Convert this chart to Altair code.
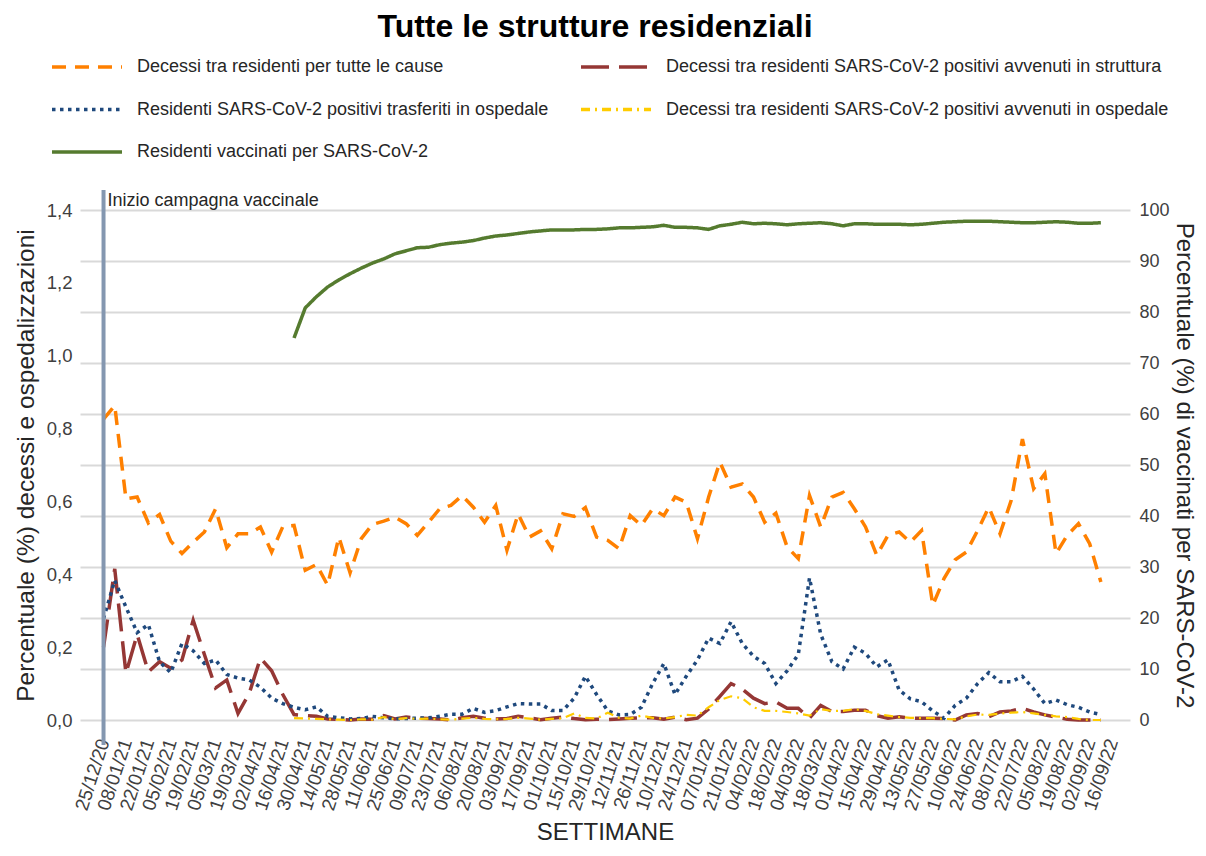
import altair as alt
import pandas as pd

TITLE = "Tutte le strutture residenziali"
ANNOTATION = "Inizio campagna vaccinale"
FONT = "Liberation Sans"

tick_labels = ["25/12/20", "08/01/21", "22/01/21", "05/02/21", "19/02/21", "05/03/21",
               "19/03/21", "02/04/21", "16/04/21", "30/04/21", "14/05/21", "28/05/21",
               "11/06/21", "25/06/21", "09/07/21", "23/07/21", "06/08/21", "20/08/21",
               "03/09/21", "17/09/21", "01/10/21", "15/10/21", "29/10/21", "12/11/21",
               "26/11/21", "10/12/21", "24/12/21", "07/01/22", "21/01/22", "04/02/22",
               "18/02/22", "04/03/22", "18/03/22", "01/04/22", "15/04/22", "29/04/22",
               "13/05/22", "27/05/22", "10/06/22", "24/06/22", "08/07/22", "22/07/22",
               "05/08/22", "19/08/22", "02/09/22", "16/09/22"]

series_names = [
    "Decessi tra residenti per tutte le cause",
    "Decessi tra residenti SARS-CoV-2 positivi avvenuti in struttura",
    "Residenti SARS-CoV-2 positivi trasferiti in ospedale",
    "Decessi tra residenti SARS-CoV-2 positivi avvenuti in ospedale",
    "Residenti vaccinati per SARS-CoV-2",
]
series_colors = ["#FF8000", "#953735", "#1F497D", "#FFCC00", "#557B2F"]
series_dashes = [[14, 9], [28, 10], [3.5, 4.5], [9, 5, 2, 5], [1, 0]]

# weekly values, week 0 = 25/12/20
tutte_cause = [
    0.826, 0.863, 0.607, 0.612, 0.541, 0.564, 0.491, 0.457, 0.488, 0.516,
    0.580, 0.473, 0.511, 0.511, 0.530, 0.461, 0.531, 0.534, 0.411, 0.427,
    0.370, 0.502, 0.404, 0.498, 0.537, 0.546, 0.557, 0.539, 0.507, 0.543,
    0.580, 0.589, 0.616, 0.584, 0.543, 0.589, 0.466, 0.566, 0.502, 0.519,
    0.470, 0.566, 0.559, 0.583, 0.502, 0.493, 0.470, 0.561, 0.534, 0.580,
    0.561, 0.612, 0.598, 0.498, 0.612, 0.708, 0.639, 0.648, 0.612, 0.543,
    0.568, 0.475, 0.443, 0.616, 0.530, 0.612, 0.625, 0.580, 0.530, 0.452,
    0.507, 0.516, 0.488, 0.520, 0.315, 0.388, 0.440, 0.461, 0.520, 0.584,
    0.511, 0.603, 0.771, 0.635, 0.676, 0.457, 0.507, 0.539, 0.484, 0.379,
]
in_struttura = [
    0.200, 0.415, 0.128, 0.235, 0.132, 0.160, 0.142, 0.165, 0.274, 0.180,
    0.088, 0.110, 0.018, 0.073, 0.170, 0.135, 0.070, 0.015, 0.012, 0.010,
    0.003, 0.002, 0.000, 0.003, 0.002, 0.012, 0.003, 0.008, 0.005, 0.004,
    0.003, 0.000, 0.006, 0.010, 0.005, 0.003, 0.004, 0.010, 0.006, 0.001,
    0.005, 0.008, 0.004, 0.001, 0.002, 0.001, 0.003, 0.005, 0.006, 0.006,
    0.002, 0.008, 0.001, 0.005, 0.030, 0.065, 0.100, 0.085, 0.060, 0.045,
    0.050, 0.032, 0.032, 0.005, 0.040, 0.023, 0.023, 0.027, 0.027, 0.012,
    0.005, 0.009, 0.005, 0.005, 0.005, 0.004, 0.000, 0.014, 0.018, 0.009,
    0.022, 0.025, 0.032, 0.022, 0.014, 0.008, 0.002, 0.000, 0.000, 0.000,
]
trasferiti = [
    0.278, 0.383, 0.310, 0.240, 0.262, 0.160, 0.130, 0.210, 0.190, 0.155,
    0.165, 0.125, 0.115, 0.110, 0.090, 0.060, 0.045, 0.035, 0.028, 0.036,
    0.010, 0.006, 0.003, 0.004, 0.010, 0.006, 0.003, 0.004, 0.005, 0.006,
    0.010, 0.016, 0.016, 0.032, 0.021, 0.026, 0.036, 0.045, 0.044, 0.044,
    0.026, 0.026, 0.060, 0.120, 0.070, 0.025, 0.014, 0.015, 0.035, 0.100,
    0.155, 0.070, 0.120, 0.165, 0.225, 0.210, 0.270, 0.210, 0.175, 0.155,
    0.100, 0.135, 0.180, 0.390, 0.235, 0.160, 0.140, 0.200, 0.183, 0.146,
    0.165, 0.082, 0.058, 0.050, 0.025, 0.005, 0.040, 0.060, 0.100, 0.130,
    0.105, 0.105, 0.120, 0.085, 0.045, 0.055, 0.042, 0.035, 0.022, 0.015,
]
in_ospedale = [None] * 17 + [
    0.005, 0.004, 0.003,
    0.002, 0.001, 0.000, 0.002, 0.001, 0.008, 0.002, 0.005, 0.003, 0.004,
    0.002, 0.001, 0.004, 0.006, 0.003, 0.002, 0.003, 0.006, 0.004, 0.001,
    0.003, 0.005, 0.018, 0.006, 0.004, 0.020, 0.006, 0.004, 0.012, 0.006,
    0.004, 0.008, 0.014, 0.012, 0.035, 0.055, 0.065, 0.060, 0.035, 0.025,
    0.025, 0.022, 0.018, 0.012, 0.030, 0.025, 0.025, 0.030, 0.025, 0.016,
    0.012, 0.008, 0.006, 0.005, 0.005, 0.003, 0.002, 0.010, 0.015, 0.014,
    0.018, 0.020, 0.022, 0.018, 0.014, 0.010, 0.008, 0.003, 0.000, 0.000,
]
vaccinati = [None] * 17 + [
    74.9, 80.8, 83.0,
    84.9, 86.3, 87.5, 88.6, 89.6, 90.4, 91.4, 92.0, 92.6, 92.7,
    93.2, 93.5, 93.7, 94.0, 94.5, 94.9, 95.1, 95.4, 95.7, 95.9,
    96.1, 96.1, 96.1, 96.2, 96.2, 96.3, 96.5, 96.5, 96.6, 96.7,
    97.0, 96.6, 96.6, 96.5, 96.2, 96.9, 97.2, 97.6, 97.3, 97.4,
    97.3, 97.1, 97.3, 97.4, 97.5, 97.3, 96.9, 97.3, 97.3, 97.2,
    97.2, 97.2, 97.1, 97.2, 97.4, 97.6, 97.7, 97.8, 97.8, 97.8,
    97.7, 97.6, 97.5, 97.5, 97.6, 97.7, 97.6, 97.4, 97.4, 97.5,
]

rows = []
for name, vals in zip(series_names, [tutte_cause, in_struttura, trasferiti, in_ospedale, vaccinati]):
    for w, v in enumerate(vals):
        if v is not None:
            rows.append({"settimana": w, "serie": name, "valore": v})
df = pd.DataFrame(rows)

label_expr = "[" + ",".join("'" + t + "'" for t in tick_labels) + "][round(datum.value / 2)]"

legend = alt.Legend(
    title=None, orient="none", legendX=-30, legendY=-152, columns=2, direction="horizontal",
    symbolType="stroke", symbolSize=4900, symbolStrokeWidth=3.5,
    labelFont=FONT, labelFontSize=18, labelColor="#262626", labelLimit=900,
    labelOffset=13, columnPadding=30, rowPadding=24.5, clipHeight=18, padding=0,
)
color_enc = alt.Color("serie:N", scale=alt.Scale(domain=series_names, range=series_colors), legend=legend)
dash_enc = alt.StrokeDash("serie:N", scale=alt.Scale(domain=series_names, range=series_dashes), legend=legend)

x_enc = alt.X(
    "settimana:Q",
    scale=alt.Scale(domain=[-2.1, 91.6], nice=False, zero=False),
    axis=alt.Axis(
        values=list(range(0, 91, 2)), labelExpr=label_expr, labelAngle=-72,
        labelFontSize=19, labelFont=FONT, labelColor="#404040", labelPadding=19,
        labelOverlap=False, labelFlush=False, labelBound=False, grid=False, domain=False,
        ticks=False, title="SETTIMANE", titleFontSize=24, titleFont=FONT,
        titleFontWeight="normal", titleColor="#262626", titlePadding=8,
    ),
)

y_left = alt.Y(
    "valore:Q",
    scale=alt.Scale(domain=[0, 1.4], nice=False, zero=True),
    axis=alt.Axis(
        values=[0, 0.2, 0.4, 0.6, 0.8, 1.0, 1.2, 1.4],
        labelExpr="replace(format(datum.value, '.1f'), '.', ',')",
        grid=False, domain=False, ticks=False, labelFontSize=18.5, labelFont=FONT,
        labelColor="#404040", labelPadding=8,
        title="Percentuale (%) decessi e ospedalizzazioni", titleFontSize=24.5,
        titleFont=FONT, titleFontWeight="normal", titleColor="#262626", titlePadding=8,
    ),
)
y_right = alt.Y(
    "valore:Q",
    scale=alt.Scale(domain=[0, 100], nice=False, zero=True),
    axis=alt.Axis(
        orient="right", values=list(range(0, 101, 10)), grid=True, gridColor="#D9D9D9",
        gridWidth=2, domain=False, ticks=False, labelFontSize=18, labelFont=FONT,
        labelColor="#404040", labelPadding=9,
        title="Percentuale (%) di vaccinati per SARS-CoV-2", titleFontSize=24,
        titleFont=FONT, titleFontWeight="normal", titleColor="#262626", titlePadding=2,
    ),
)

base = alt.Chart(df)
left_main = base.transform_filter(
    alt.FieldOneOfPredicate(field="serie", oneOf=series_names[:3])
).mark_line(strokeWidth=3.5).encode(x=x_enc, y=y_left, color=color_enc, strokeDash=dash_enc)
left_yellow = base.transform_filter(
    alt.FieldEqualPredicate(field="serie", equal=series_names[3])
).mark_line(strokeWidth=2.2).encode(x=x_enc, y=y_left, color=color_enc, strokeDash=dash_enc)

ann = alt.Chart(pd.DataFrame({"settimana": [0], "testo": [ANNOTATION]}))
rule = ann.mark_rule(color="#8497B0", strokeWidth=4).encode(
    x=x_enc, y=alt.value(-20), y2=alt.value(535))
text = ann.mark_text(align="left", baseline="alphabetic", dx=4, fontSize=18, font=FONT,
                     color="#262626").encode(x=x_enc, y=alt.value(-4), text="testo:N")

right_green = base.transform_filter(
    alt.FieldEqualPredicate(field="serie", equal=series_names[4])
).mark_line(strokeWidth=3.5).encode(x=x_enc, y=y_right, color=color_enc, strokeDash=dash_enc)

chart = alt.layer(
    alt.layer(left_main, left_yellow, rule, text),
    right_green,
).resolve_scale(y="independent").properties(
    width=1050, height=510,
    title=alt.TitleParams(TITLE, fontSize=32, fontWeight="bold", font=FONT, color="black",
                          anchor="middle", dx=-10, dy=-10),
    autosize=alt.AutoSizeParams(type="none"),
    padding={"left": 72, "top": 202, "right": 68, "bottom": 124},
    background="white",
).configure_view(stroke=None).configure_axis(labelOverlap=False)

chart.save("out.html", embed_options={"renderer": "svg", "actions": False})
